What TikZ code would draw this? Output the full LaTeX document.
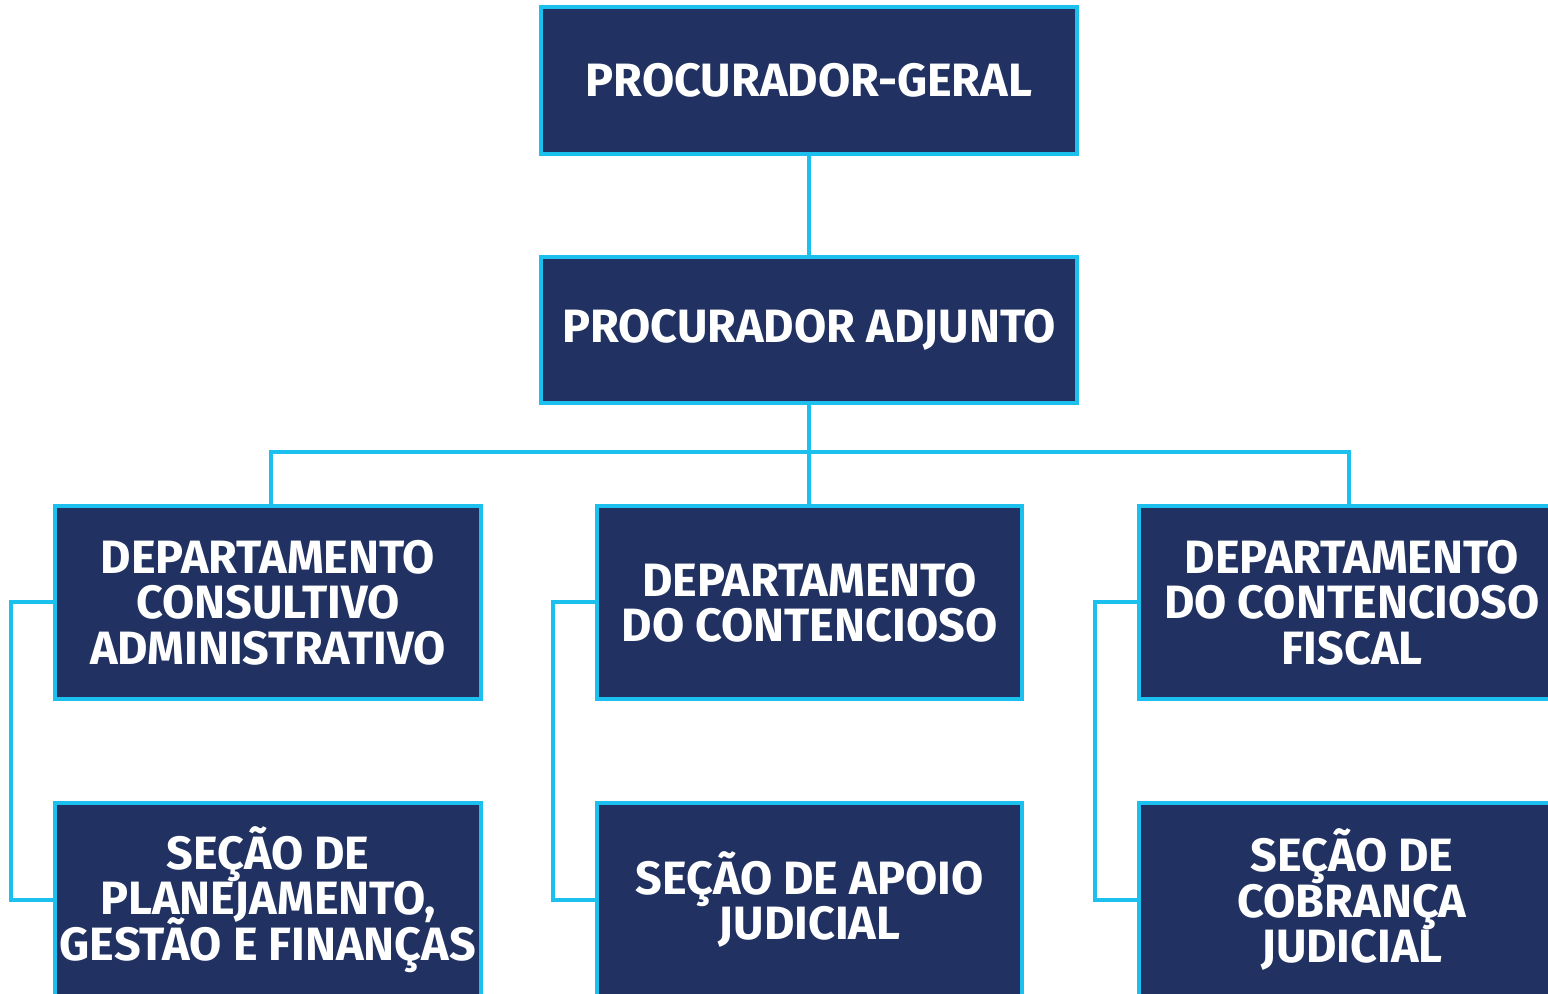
\documentclass[tikz,border=0pt]{standalone}
\usepackage{fontspec}
\setmainfont{Fira Sans}
\usepackage{tikz}
\usetikzlibrary{calc}

\definecolor{navy}{HTML}{213262}
\definecolor{cyanline}{HTML}{1CC0EE}
\newcommand\orgfont{\bfseries\fontsize{13.3}{12.9}\selectfont\lineskiplimit=-20pt\relax}

\tikzset{
  orgbox/.style={draw=cyanline, fill=navy, line width=0.04cm, text=white,
    align=center, inner sep=0pt, minimum height=#1, font=\orgfont},
  orgbox/.default=1.93cm,
  link/.style={draw=cyanline, line width=0.04cm}
}

\begin{document}
\begin{tikzpicture}
                        \useasboundingbox (0,0) rectangle (15.48,9.93);
                        \clip (0,0) rectangle (15.48,9.93);

                        % Drawing the two top boxes
                        \node [orgbox=1.47cm, minimum width=5.36cm] (geral) at (8.09,9.125) {PROCURADOR-GERAL};
                        \node [orgbox=1.46cm, minimum width=5.36cm] (adjunto) at (8.09,6.63) {PROCURADOR ADJUNTO};

                        % Drawing the departments
                        \node [orgbox, minimum width=4.26cm] (consultivo) at (2.68,3.905) {DEPARTAMENTO\\CONSULTIVO\\ADMINISTRATIVO};
                        \node [orgbox, minimum width=4.25cm] (contencioso) at (8.095,3.905) {DEPARTAMENTO\\DO CONTENCIOSO};
                        \node [orgbox, minimum width=4.26cm] (fiscal) at (13.52,3.905) {DEPARTAMENTO\\DO CONTENCIOSO\\FISCAL};

                        % Drawing the sections
                        \node [orgbox, minimum width=4.26cm] (planejamento) at (2.68,0.935) {SEÇÃO DE\\PLANEJAMENTO,\\GESTÃO E FINANÇAS};
                        \node [orgbox, minimum width=4.25cm] (apoio) at (8.095,0.935) {SEÇÃO DE APOIO\\JUDICIAL};
                        \node [orgbox, minimum width=4.26cm] (cobranca) at (13.52,0.935) {SEÇÃO DE\\COBRANÇA\\JUDICIAL};

                        % Drawing the tree links
                        \coordinate (bus) at (8.09,5.41);
                        \draw [link] (geral) -- (adjunto);%
                        \draw [link] (adjunto) -- (bus);%
                        \draw [link] (bus) -- (contencioso);%
                        \draw [link] (bus) -| ($(consultivo.north)+(0.03,0)$);%
                        \draw [link] (bus) -| ($(fiscal.north)+(-0.03,0)$);%

                        % Drawing the brackets to the sections
                        \draw [link] (consultivo.west) -- ++(-0.42,0) |- (planejamento.west);%
                        \draw [link] (contencioso.west) -- ++(-0.42,0) |- (apoio.west);%
                        \draw [link] (fiscal.west) -- ++(-0.42,0) |- (cobranca.west);%
                    \end{tikzpicture}
\end{document}
